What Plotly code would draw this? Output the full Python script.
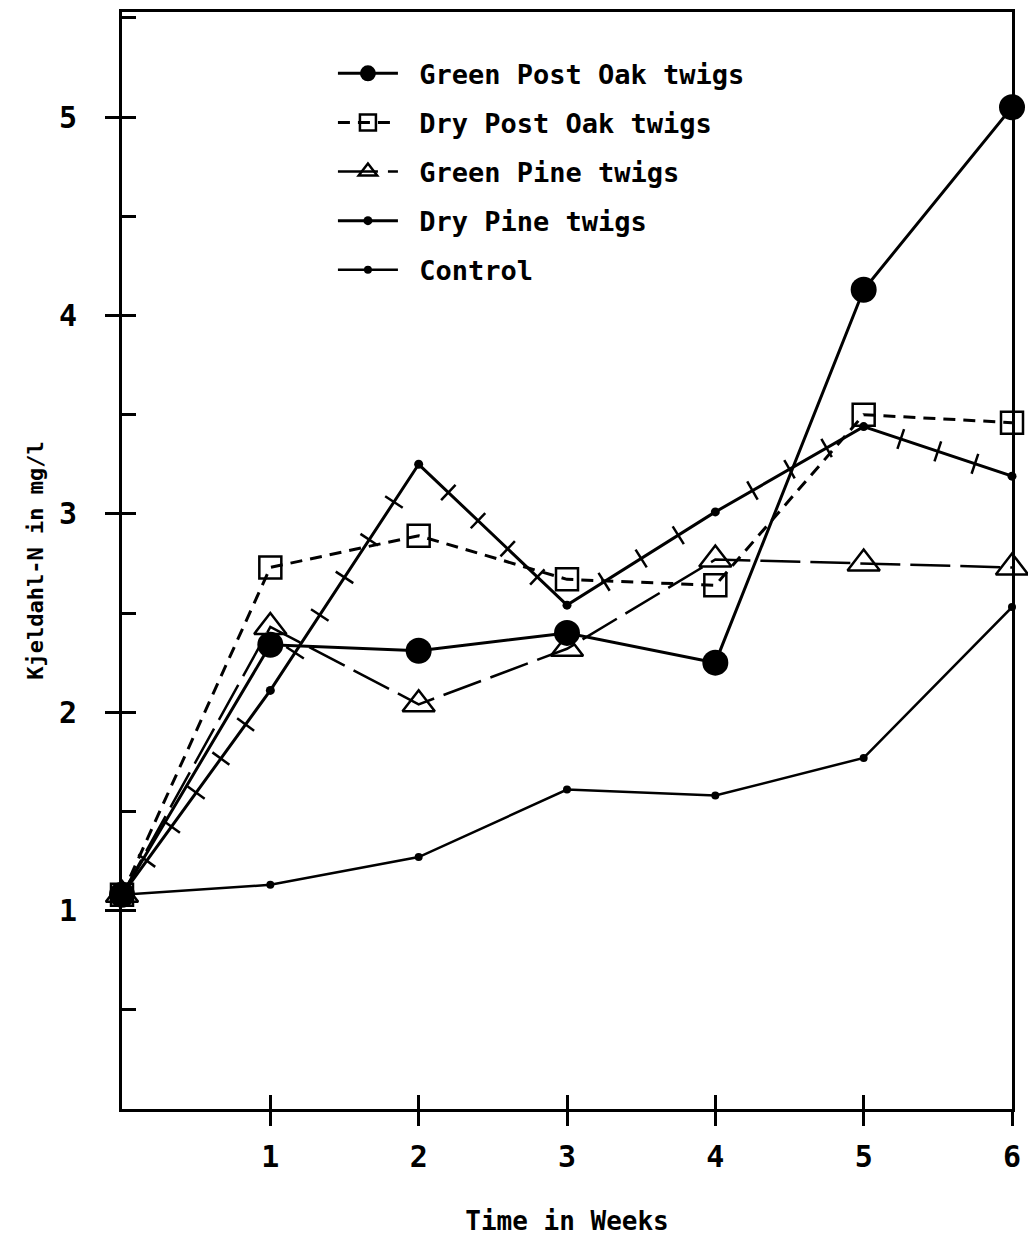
import math
import plotly.graph_objects as go

# Kjeldahl-N concentration (mg/l) over six weeks of incubation
weeks = [0, 1, 2, 3, 4, 5, 6]
green_post_oak = [1.08, 2.34, 2.31, 2.40, 2.25, 4.13, 5.05]
dry_post_oak = [1.08, 2.73, 2.89, 2.67, 2.64, 3.50, 3.46]
green_pine = [1.08, 2.43, 2.04, 2.32, 2.77, 2.75, 2.73]
dry_pine = [1.08, 2.11, 3.25, 2.54, 3.01, 3.44, 3.19]
control = [1.08, 1.13, 1.27, 1.61, 1.58, 1.77, 2.53]

x_ticks = [1, 2, 3, 4, 5, 6]
y_ticks = [1, 2, 3, 4, 5]

X_RANGE = [0, 6]
Y_RANGE = [0, 5.53]

FONT = "DejaVu Sans Mono"
INK = "black"
PAD = "\u00a0"  # gap between legend sample and its label

# plot-area geometry (pixels) used for the cross-bar line style
W, H = 1028, 1236
M = dict(l=122, r=16, t=12, b=127)
px_x = (W - M["l"] - M["r"]) / (X_RANGE[1] - X_RANGE[0])
px_y = (H - M["t"] - M["b"]) / (Y_RANGE[1] - Y_RANGE[0])

fig = go.Figure()

fig.add_trace(go.Scatter(
    x=weeks, y=green_post_oak, name=PAD + "Green Post Oak twigs", legendgroup="a",
    mode="lines+markers", line=dict(color=INK, width=3),
    marker=dict(symbol="circle", size=26, color=INK), cliponaxis=False))

fig.add_trace(go.Scatter(
    x=weeks, y=dry_post_oak, name=PAD + "Dry Post Oak twigs", legendgroup="b",
    mode="lines+markers", line=dict(color=INK, width=3, dash="12px,8px"),
    marker=dict(symbol="square-open", size=22, color=INK, line=dict(width=2.5)),
    cliponaxis=False))

fig.add_trace(go.Scatter(
    x=weeks, y=green_pine, name=PAD + "Green Pine twigs", legendgroup="c",
    mode="lines+markers", line=dict(color=INK, width=2.5, dash="40px,10px"),
    marker=dict(symbol="triangle-up-open", size=28, color=INK, line=dict(width=2.5)),
    cliponaxis=False))

fig.add_trace(go.Scatter(
    x=weeks, y=dry_pine, name=PAD + "Dry Pine twigs", legendgroup="d",
    mode="lines+markers", line=dict(color=INK, width=3),
    marker=dict(symbol="circle", size=9, color=INK), cliponaxis=False))

# cross-bar line style for the dry pine series, derived from its segments
tx, ty, ta = [], [], []
for i in range(len(weeks) - 1):
    x0, x1 = weeks[i], weeks[i + 1]
    y0, y1 = dry_pine[i], dry_pine[i + 1]
    dxp = (x1 - x0) * px_x
    dyp = -(y1 - y0) * px_y
    seg = math.hypot(dxp, dyp)
    n = max(1, round(seg / 42))
    ang = math.degrees(math.atan2(dyp, dxp))
    for k in range(1, n):
        t = k / n
        tx.append(x0 + t * (x1 - x0))
        ty.append(y0 + t * (y1 - y0))
        ta.append(ang)
fig.add_trace(go.Scatter(
    x=tx, y=ty, mode="markers", showlegend=False, hoverinfo="skip",
    marker=dict(symbol="line-ns", size=15, angle=ta, color=INK,
                line=dict(color=INK, width=2.5)), cliponaxis=False))

fig.add_trace(go.Scatter(
    x=weeks, y=control, name=PAD + "Control", legendgroup="e",
    mode="lines+markers", line=dict(color=INK, width=2.5),
    marker=dict(symbol="circle", size=8, color=INK), cliponaxis=False))

axis_common = dict(showgrid=False, zeroline=False, linecolor=INK, linewidth=3,
                   tickcolor=INK, tickwidth=2.5, automargin=False)

fig.update_layout(
    width=W, height=H, margin=M,
    paper_bgcolor="white", plot_bgcolor="white",
    font=dict(family=FONT, color=INK, size=26, weight="bold"),
    showlegend=True,
    legend=dict(x=0.237, y=0.966, xanchor="left", yanchor="top",
                bgcolor="rgba(0,0,0,0)", itemwidth=60, tracegroupgap=11,
                font=dict(family=FONT, size=27, weight="bold")),
    xaxis=dict(range=X_RANGE, tickvals=x_ticks, ticks="outside", ticklen=14,
               mirror=True, showline=True, ticklabelstandoff=5,
               ticklabeloverflow="allow",
               tickfont=dict(size=30, weight="bold"),
               title=dict(text="Time in Weeks", standoff=44,
                          font=dict(size=26, weight="bold")),
               **axis_common),
    yaxis=dict(range=Y_RANGE, tickvals=y_ticks, ticks="outside", ticklen=14,
               mirror=True, showline=True, ticklabelstandoff=22,
               ticklabeloverflow="allow",
               tickfont=dict(size=30, weight="bold"),
               title=dict(text="Kjeldahl-N in mg/l", standoff=10,
                          font=dict(size=22, weight="bold")),
               **axis_common),
    # inward tick halves: integers on x, half units on y
    xaxis2=dict(range=X_RANGE, overlaying="x", anchor="y", side="bottom",
                tickvals=x_ticks, ticks="inside", ticklen=14,
                showticklabels=False, **axis_common),
    yaxis2=dict(range=Y_RANGE, overlaying="y", anchor="x", side="left",
                dtick=0.5, tick0=0, ticks="inside", ticklen=14,
                showticklabels=False, **axis_common),
)

# invisible trace that attaches the overlay axes
fig.add_trace(go.Scatter(x=[None], y=[None], xaxis="x2", yaxis="y2",
                         showlegend=False, hoverinfo="skip"))

fig.write_html("out.html")
